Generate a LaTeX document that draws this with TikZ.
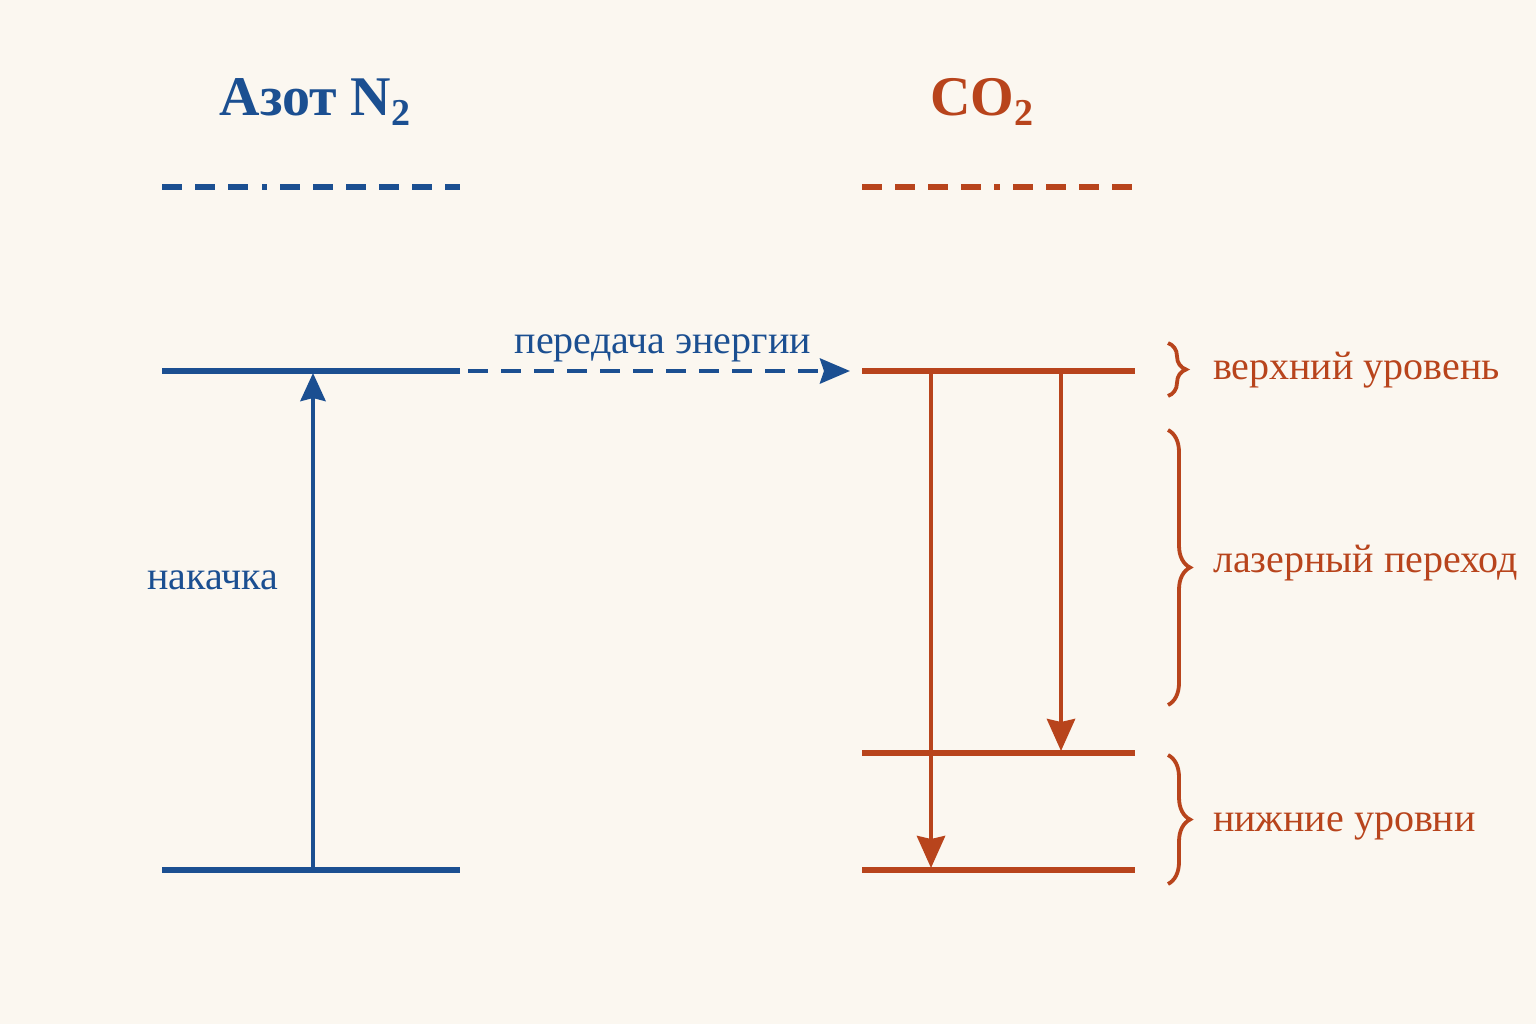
\documentclass[tikz,border=0pt]{standalone}
\usepackage{fontspec}
\setmainfont{Liberation Serif}
\usepackage{xcolor}
\usetikzlibrary{positioning,calc,arrows.meta,decorations.pathreplacing}
\definecolor{bgcol}{HTML}{FBF7F0}
\definecolor{nblue}{HTML}{1B4F91}
\definecolor{cred}{HTML}{B8441C}
\newcommand{\lowsub}[1]{\raisebox{-5pt}{\fontsize{19}{20}\selectfont #1}}
\tikzset{
    level/.style={line width=2.7pt},
    trans/.style={line width=2.2pt, -{Stealth[length=16pt,width=14pt,inset=1.5pt]}},
    brc/.style={cred, line width=1.9pt, decorate, decoration={brace,amplitude=11pt,aspect=0.5}},
    lbl/.style={font=\fontsize{20}{22}\selectfont},
    ttl/.style={font=\fontsize{28}{32}\selectfont\bfseries}
}
\begin{document}
\begin{tikzpicture}[x=0.5pt,y=-0.5pt]
    \fill[bgcol] (0,0) rectangle (1536,1024);

    % Titles
    \node[nblue, ttl] (titleN) at (315,102) {Азот N\lowsub{2}};
    \node[cred, ttl] (titleC) at (982,102) {CO\lowsub{2}};

    % N2 levels
    \coordinate (nvL) at (162,187); \coordinate (nvR) at (460,187);
    \coordinate (nuL) at (162,371); \coordinate (nuR) at (460,371);
    \coordinate (ngL) at (162,870); \coordinate (ngR) at (460,870);
    \draw[nblue, level, dash pattern=on 10pt off 6.5pt on 10pt off 6.5pt on 10pt off 7pt on 2.5pt off 6.5pt on 10pt off 6.5pt on 10pt off 6.5pt on 10pt off 6.5pt on 10pt off 6.5pt on 10pt off 6.5pt on 10pt off 6.5pt] (nvL) -- (nvR);
    \draw[nblue, level] (nuL) -- (nuR);
    \draw[nblue, level] (ngL) -- (ngR);

    % CO2 levels
    \coordinate (cvL) at (862,187); \coordinate (cvR) at (1135,187);
    \coordinate (cuL) at (862,371); \coordinate (cuR) at (1135,371);
    \coordinate (clL) at (862,753); \coordinate (clR) at (1135,753);
    \coordinate (cgL) at (862,870); \coordinate (cgR) at (1135,870);
    \draw[cred, level, dash pattern=on 10pt off 6.5pt on 10pt off 6.5pt on 10pt off 6.5pt on 10pt off 6.5pt on 3pt off 6.5pt on 10pt off 6.5pt on 10pt off 6.5pt on 10pt off 6.5pt on 10pt off 6.5pt] (cvL) -- (cvR);
    \draw[cred, level] (cuL) -- (cuR);
    \draw[cred, level] (clL) -- (clR);
    \draw[cred, level] (cgL) -- (cgR);

    % Pumping
    \coordinate (pumpA) at (313,870); \coordinate (pumpB) at (313,373);
    \draw[nblue, trans, -{Stealth[length=14pt,width=12.5pt,inset=1.5pt]}] (pumpA) -- (pumpB);
    \node[nblue, lbl] (pumpLbl) at (213,580) {накачка};

    % Energy transfer
    \coordinate (xferB) at (850,371);
    \draw[nblue, line width=2.3pt, dash pattern=on 10pt off 6.5pt, -{Stealth[length=15pt,width=12.5pt,inset=2pt]}] (nuR) ++(8,0) coordinate (xferA) -- (xferB)
        node[pos=0.51, above=0pt, lbl] (xferLbl) {передача энергии};

    % Laser transitions
    \coordinate (lasA1) at (931,371); \coordinate (lasB1) at (931,868);
    \coordinate (lasA2) at (1061,371); \coordinate (lasB2) at (1061,751);
    \draw[cred, trans] (lasA1) -- (lasB1);
    \draw[cred, trans] (lasA2) -- (lasB2);

    % Braces
    \draw[brc, decoration={amplitude=9pt}] (1168,343) -- (1168,396) coordinate[midway] (brU);
    \draw[brc] (1168,430) -- (1168,705) coordinate[midway] (brL);
    \draw[brc] (1168,755) -- (1168,884) coordinate[midway] (brD);
    \node[cred, lbl, anchor=west] (upLbl) at (1206,370) {верхний уровень};
    \node[cred, lbl, anchor=west] (lasLbl) at (1206,563) {лазерный переход};
    \node[cred, lbl, anchor=west] (lowLbl) at (1206,826) {нижние уровни};
\end{tikzpicture}
\end{document}
